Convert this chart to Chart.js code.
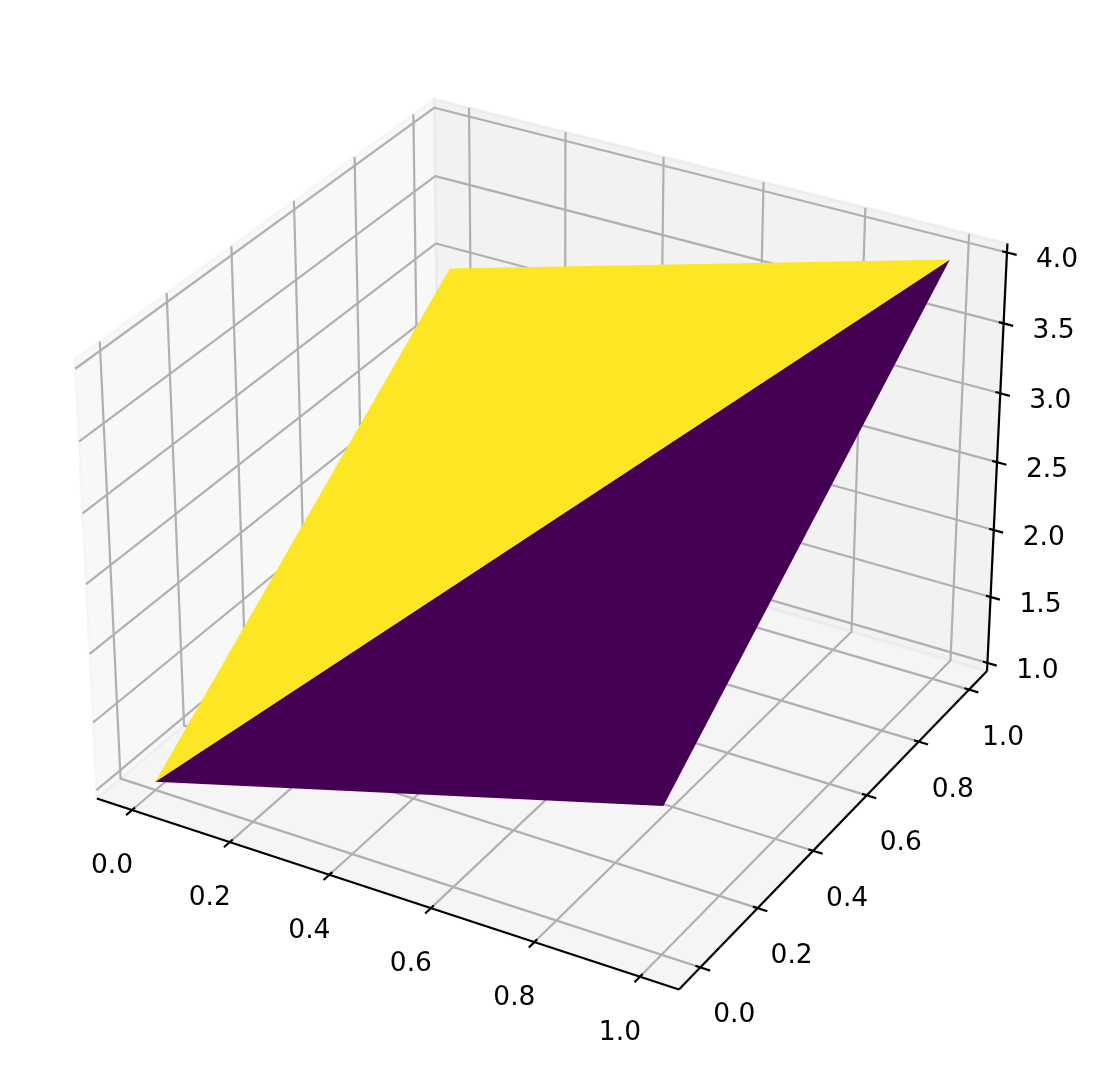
<!DOCTYPE html>
<html>
<head>
<meta charset="utf-8">
<style>html,body{margin:0;padding:0;background:#fff}canvas{display:block}</style>
<script src="https://cdn.jsdelivr.net/npm/chart.js@4"></script>
</head>
<body>
<canvas id="c" width="1097" height="1073"></canvas>
<script>
// ---- data ----
const xValues = [0, 1];
const yValues = [0, 1];
const zValues = [[1, 2], [3, 4]]; // zValues[yIndex][xIndex]
const xTicks = [0, 0.2, 0.4, 0.6, 0.8, 1];
const yTicks = [0, 0.2, 0.4, 0.6, 0.8, 1];
const zTicks = [1, 1.5, 2, 2.5, 3, 3.5, 4];
const xTickLabels = ['0.0', '0.2', '0.4', '0.6', '0.8', '1.0'];
const yTickLabels = ['0.0', '0.2', '0.4', '0.6', '0.8', '1.0'];
const zTickLabels = ['1.0', '1.5', '2.0', '2.5', '3.0', '3.5', '4.0'];

// ---- view (matplotlib default mplot3d camera) ----
const paneMargin = 1 / 48;
const xLim = [-0.05, 1.05], yLim = [-0.05, 1.05], zLim = [1, 4];
function paneOf(l) { const d = (l[1] - l[0]) * paneMargin; return [l[0] - d, l[1] + d]; }
const xPane = paneOf(xLim), yPane = paneOf(yLim), zPane = paneOf(zLim);
const boxN = 1.8294640721620434 * 25 / 24 / Math.sqrt(41);
const box = [4 * boxN, 4 * boxN, 3 * boxN];
const dist = 10;
const U = [0.8660254, 0.5, 0], V = [-0.25, 0.4330127, 0.8660254], W = [0.4330127, -0.75, 0.5];
function dot(a, b) { return a[0] * b[0] + a[1] * b[1] + a[2] * b[2]; }
function project(x, y, z) {
  const d = [
    ((x - xLim[0]) / (xLim[1] - xLim[0]) - 0.5) * box[0],
    ((y - yLim[0]) / (yLim[1] - yLim[0]) - 0.5) * box[1],
    ((z - zLim[0]) / (zLim[1] - zLim[0]) - 0.5) * box[2]
  ];
  const k = dist - dot(W, d);
  return { x: dot(U, d) / k, y: dot(V, d) / k };
}
// viewport of the projected plane
const S = 5375, OX = 550.5, OY = 522;
const W_PX = 1097, H_PX = 1073;

// ---- datasets, bottom to top ----
const layers = [];
function poly(pts, fill, edge, edgeWidth) {
  layers.push({ data: pts.concat([pts[0]]).map(p => project(p[0], p[1], p[2])), fill: 'shape',
    backgroundColor: fill, borderWidth: edgeWidth || 0, borderColor: edge || 'rgba(0,0,0,0)', borderJoinStyle: 'miter' });
}
function line(pts, color, width) {
  layers.push({ data: pts.map(p => project(p[0], p[1], p[2])), fill: false,
    borderColor: color, borderWidth: width, borderCapStyle: 'butt', borderJoinStyle: 'round' });
}
const [x0, x1] = xPane, [y0, y1] = yPane, [z0, z1] = zPane;
// panes
const PANE_X = 'rgba(242,242,242,0.5)', PANE_Y = 'rgba(230,230,230,0.5)', PANE_Z = 'rgba(236,236,236,0.5)';
poly([[x0, y0, z0], [x0, y1, z0], [x0, y1, z1], [x0, y0, z1]], PANE_X, PANE_X, 2.8);
poly([[x0, y1, z0], [x1, y1, z0], [x1, y1, z1], [x0, y1, z1]], PANE_Y, PANE_Y, 2.8);
poly([[x0, y0, z0], [x1, y0, z0], [x1, y1, z0], [x0, y1, z0]], PANE_Z, PANE_Z, 2.8);
// grid
const GRID = '#b0b0b0', GW = 2.2;
xTicks.forEach(t => line([[t, y0, z0], [t, y1, z0], [t, y1, z1]], GRID, GW));
yTicks.forEach(t => line([[x0, t, z1], [x0, t, z0], [x1, t, z0]], GRID, GW));
zTicks.forEach(t => line([[x0, y0, t], [x0, y1, t], [x1, y1, t]], GRID, GW));
// axis lines
line([[x0, y0, z0], [x1, y0, z0]], '#000', 2.2);
line([[x1, y0, z0], [x1, y1, z0]], '#000', 2.2);
line([[x1, y1, z0], [x1, y1, z1]], '#000', 2.2);
// tick marks
const tIn = 1 / 120, tOut = 1 / 60;
const xr = xLim[1] - xLim[0], yr = yLim[1] - yLim[0];
xTicks.forEach(t => line([[t, y0 + tIn * yr, z0], [t, y0 - tOut * yr, z0]], '#000', 2.2));
yTicks.forEach(t => line([[x1 - tIn * xr, t, z0], [x1 + tOut * xr, t, z0]], '#000', 2.2));
zTicks.forEach(t => line([[x1 - tIn * xr, y1, t], [x1 + tOut * xr, y1, t]], '#000', 2.2));
// surface: two triangles of the single grid cell
const v = (i, j) => [xValues[i], yValues[j], zValues[j][i]];
poly([v(0, 0), v(1, 0), v(1, 1)], '#440154');
poly([v(0, 0), v(0, 1), v(1, 1)], '#fde725');

const n = layers.length;
const datasets = layers.map((d, i) => Object.assign(d, {
  order: n - i, showLine: true, pointRadius: 0, pointHitRadius: 0, tension: 0, clip: false, spanGaps: true
}));

// ---- tick label plugin ----
const labelGroups = [
  { ticks: xTicks, text: xTickLabels, pos: t => [t, y0, z0], dx: -20, dy: 56 },
  { ticks: yTicks, text: yTickLabels, pos: t => [x1, t, z0], dx: 34, dy: 48 },
  { ticks: zTicks, text: zTickLabels, pos: t => [x1, y1, t], dx: 50, dy: 8 }
];
const tickLabelPlugin = {
  id: 'tickLabels3d',
  afterDraw(chart) {
    const ctx = chart.ctx, sx = chart.scales.x, sy = chart.scales.y;
    ctx.save();
    ctx.font = '26.5px "DejaVu Sans"';
    ctx.fillStyle = '#000';
    ctx.textAlign = 'center';
    ctx.textBaseline = 'middle';
    labelGroups.forEach(g => g.ticks.forEach((t, i) => {
      const p = g.pos(t), q = project(p[0], p[1], p[2]);
      ctx.fillText(g.text[i], sx.getPixelForValue(q.x) + g.dx, sy.getPixelForValue(q.y) + g.dy);
    }));
    ctx.restore();
  }
};

new Chart(document.getElementById('c'), {
  type: 'scatter',
  data: { datasets },
  plugins: [tickLabelPlugin],
  options: {
    responsive: false,
    animation: false,
    layout: { padding: 0 },
    plugins: { legend: { display: false }, tooltip: { enabled: false } },
    scales: {
      x: { type: 'linear', display: false, min: -OX / S, max: (W_PX - OX) / S },
      y: { type: 'linear', display: false, min: -(H_PX - OY) / S, max: OY / S }
    }
  }
});
</script>
</body>
</html>
